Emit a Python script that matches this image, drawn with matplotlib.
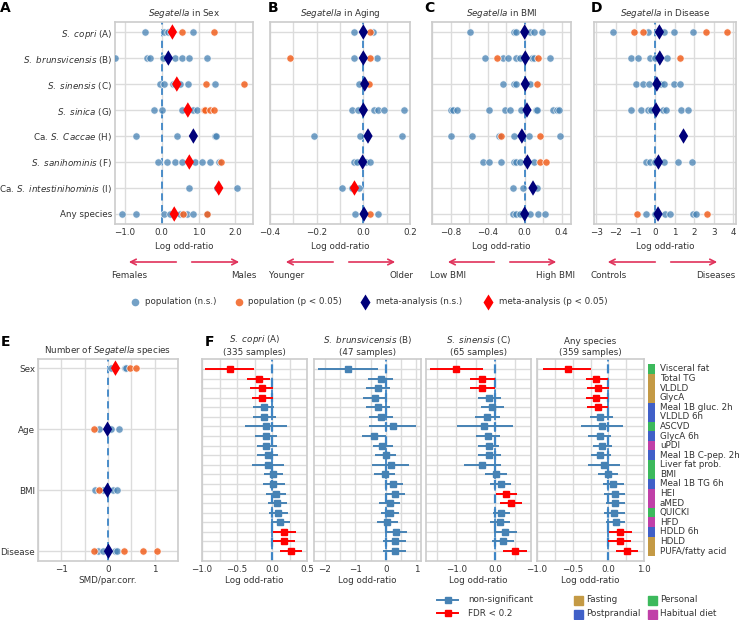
import matplotlib
matplotlib.use('Agg')
import matplotlib.pyplot as plt
import numpy as np
from matplotlib.lines import Line2D
from matplotlib.patches import Rectangle

# ---------------- DATA ----------------
species_labels = [r"$\it{S.\ copri}$ (A)", r"$\it{S.\ brunsvicensis}$ (B)", r"$\it{S.\ sinensis}$ (C)",
                  r"$\it{S.\ sinica}$ (G)", r"Ca. $\it{S.\ Caccae}$ (H)", r"$\it{S.\ sanihominis}$ (F)",
                  r"Ca. $\it{S.\ intestinihominis}$ (I)", "Any species"]

sex_ns = [[-0.45, 0.05, 0.18, 0.24, 0.86],
          [-1.27, -0.41, -0.32, 0.03, 0.36, 0.55, 0.73, 1.23],
          [-0.06, 0.05, 0.30, 0.35, 0.50, 0.71, 1.45],
          [-0.21, 0.0, 0.55, 0.86, 0.95],
          [-0.71, 0.41, 1.44, 1.48],
          [-0.09, 0.14, 0.36, 0.55, 0.91, 1.09, 1.30, 1.55],
          [0.73, 1.50, 2.05],
          [-1.09, -0.71, 0.05, 0.23, 0.50, 0.68, 0.86, 1.23]]
sex_sig = [[0.56, 1.41], [], [1.20, 2.23], [1.14, 1.18, 1.32, 1.41], [], [1.61], [], [0.59, 1.23]]
sex_meta = [0.29, 0.18, 0.41, 0.71, 0.86, 0.75, 1.55, 0.34]
sex_meta_sig = [1, 0, 1, 1, 0, 1, 1, 1]

age_ns = [[-0.039, 0.04],
          [-0.042, 0.058],
          [-0.02],
          [-0.049, -0.025, 0.045, 0.062, 0.087, 0.174],
          [-0.21, -0.013, 0.164],
          [-0.039, -0.029, 0.012, 0.029],
          [-0.09, -0.049, -0.017],
          [-0.036, 0.062]]
age_sig = [[0.029], [-0.314, 0.03], [0.026], [], [], [], [], [0.029]]
age_meta = [0.0, 0.0, 0.006, 0.0, 0.02, -0.003, -0.038, 0.003]
age_meta_sig = [0, 0, 0, 0, 0, 0, 1, 0]

bmi_ns = [[-0.59, -0.12, -0.09, 0.06, 0.10, 0.19],
          [-0.43, -0.23, -0.18, -0.09, -0.05, 0.08, 0.10, 0.27],
          [-0.23, -0.12, -0.09, 0.06],
          [-0.80, -0.77, -0.73, -0.38, -0.21, -0.16, -0.04, 0.12, 0.13, 0.31, 0.35, 0.37],
          [-0.80, -0.57, -0.28, -0.11, 0.05, 0.38],
          [-0.45, -0.38, -0.25, -0.12, -0.09, -0.05, 0.10],
          [-0.13, -0.02, 0.13],
          [-0.13, -0.09, -0.05, 0.06, 0.14, 0.22]]
bmi_sig = [[], [-0.30, 0.14], [0.13], [], [-0.25, 0.17], [0.17, 0.23], [], []]
bmi_meta = [0.0, 0.007, 0.007, 0.025, -0.03, 0.03, 0.09, 0.0]
bmi_meta_sig = [0, 0, 0, 0, 0, 0, 0, 0]

dis_ns = [[-2.17, -0.38, 0.14, 0.44, 0.99, 1.93],
          [-1.23, -0.85, -0.26, 0.0, 0.61],
          [-0.97, -0.63, -0.29, 0.31, 0.44, 0.96, 1.25],
          [-1.23, -0.72, -0.38, -0.20, 0.39, 0.56, 1.33, 1.67],
          [],
          [-0.49, -0.24, -0.03, 0.44, 1.16, 1.88],
          [],
          [-0.46, -0.03, 0.48, 0.78, 1.93, 2.10]]
dis_sig = [[-1.09, -0.63, 2.61, 3.67], [1.28], [], [], [], [], [], [-0.94, 2.66]]
dis_meta = [0.22, 0.24, 0.09, 0.05, 1.45, 0.17, np.nan, 0.15]
dis_meta_sig = [0, 0, 0, 0, 0, 0, 0, 0]

e_labels = ["Sex", "Age", "BMI", "Disease"]
e_ns = [[0.06, 0.14, 0.36, 0.38], [-0.20, 0.07, 0.23], [-0.27, -0.11, 0.11, 0.19], [-0.22, -0.11, 0.14, 0.19]]
e_sig = [[0.47, 0.61], [-0.29], [-0.20], [-0.30, 0.34, 0.74, 1.06]]
e_meta = [0.16, -0.01, -0.01, 0.01]
e_meta_sig = [1, 0, 0, 0]

outcomes = ["Visceral fat", "Total TG", "VLDLD", "GlycA", "Meal 1B gluc. 2h", "VLDLD 6h", "ASCVD",
            "GlycA 6h", "uPDI", "Meal 1B C-pep. 2h", "Liver fat prob.", "BMI", "Meal 1B TG 6h", "HEI",
            "aMED", "QUICKI", "HFD", "HDLD 6h", "HDLD", "PUFA/fatty acid"]
categories = ["Personal", "Fasting", "Fasting", "Fasting", "Postprandial", "Postprandial", "Personal",
              "Postprandial", "Habitual diet", "Postprandial", "Personal", "Personal", "Postprandial",
              "Habitual diet", "Habitual diet", "Personal", "Habitual diet", "Postprandial", "Fasting", "Fasting"]

copri_est = [-0.60, -0.19, -0.15, -0.14, -0.12, -0.11, -0.09, -0.09, -0.08, -0.06, -0.06, 0.01, 0.02, 0.05, 0.07, 0.085, 0.11, 0.17, 0.17, 0.27]
copri_lo = [-0.96, -0.36, -0.31, -0.29, -0.27, -0.27, -0.39, -0.25, -0.21, -0.21, -0.29, -0.12, -0.13, -0.09, -0.06, -0.05, -0.02, 0.01, 0.01, 0.12]
copri_hi = [-0.26, -0.03, 0.01, 0.01, 0.03, 0.05, 0.21, 0.07, 0.07, 0.09, 0.17, 0.15, 0.18, 0.20, 0.22, 0.23, 0.26, 0.34, 0.33, 0.43]
copri_sig = [1, 1, 1, 1, 0, 0, 0, 0, 0, 0, 0, 0, 0, 0, 0, 0, 0, 1, 1, 1]

brun_est = [-1.23, -0.16, -0.26, -0.37, -0.26, -0.16, 0.22, -0.38, -0.11, 0.0, 0.16, -0.04, 0.25, 0.31, 0.12, 0.13, 0.05, 0.33, 0.29, 0.29]
brun_lo = [-2.22, -0.57, -0.65, -0.76, -0.65, -0.55, -0.54, -0.79, -0.43, -0.35, -0.44, -0.38, -0.04, -0.02, -0.22, -0.16, -0.30, -0.04, -0.10, -0.10]
brun_hi = [-0.26, 0.23, 0.14, 0.03, 0.14, 0.23, 0.99, 0.01, 0.22, 0.34, 0.77, 0.31, 0.56, 0.64, 0.45, 0.44, 0.40, 0.69, 0.66, 0.67]
brun_sig = [0] * 20

sin_est = [-1.0, -0.34, -0.33, -0.16, -0.08, -0.20, -0.28, -0.19, -0.17, -0.16, -0.34, 0.02, 0.15, 0.28, 0.40, 0.15, 0.11, 0.26, 0.20, 0.50]
sin_lo = [-1.68, -0.66, -0.65, -0.45, -0.37, -0.52, -0.99, -0.49, -0.45, -0.45, -0.80, -0.26, -0.13, 0.02, 0.11, -0.06, -0.13, -0.04, -0.09, 0.19]
sin_hi = [-0.32, 0.0, 0.0, 0.15, 0.23, 0.13, 0.46, 0.13, 0.10, 0.15, 0.15, 0.30, 0.41, 0.56, 0.69, 0.37, 0.38, 0.57, 0.49, 0.82]
sin_sig = [1, 1, 1, 0, 0, 0, 0, 0, 0, 0, 0, 0, 0, 1, 1, 0, 0, 0, 0, 1]

any_est = [-0.57, -0.17, -0.14, -0.17, -0.15, -0.11, -0.09, -0.11, -0.09, -0.11, -0.06, 0.0, 0.06, 0.09, 0.10, 0.08, 0.11, 0.17, 0.16, 0.26]
any_lo = [-0.92, -0.32, -0.30, -0.32, -0.30, -0.26, -0.39, -0.28, -0.22, -0.25, -0.29, -0.14, -0.08, -0.06, -0.03, -0.06, -0.03, 0.01, 0.0, 0.11]
any_hi = [-0.24, -0.01, 0.01, -0.01, -0.01, 0.06, 0.20, 0.04, 0.05, 0.04, 0.17, 0.14, 0.22, 0.23, 0.24, 0.23, 0.24, 0.33, 0.32, 0.41]
any_sig = [1, 1, 1, 1, 1, 0, 0, 0, 0, 0, 0, 0, 0, 0, 0, 0, 0, 1, 1, 1]

f_titles = [r"$\it{S.\ copri}$ (A)" + "\n(335 samples)", r"$\it{S.\ brunsvicensis}$ (B)" + "\n(47 samples)",
            r"$\it{S.\ sinensis}$ (C)" + "\n(65 samples)", "Any species\n(359 samples)"]

# ---------------- STYLE ----------------
W, H = 740, 620
BLUE = 'steelblue'
ORANGE = '#f2601f'
NAVY = '#00007a'
RED = '#ff0000'
DASH = '#3d85c6'
ARROW = '#e0315a'
GRID = '#dcdcdc'
SPINE = '#cccccc'
TXT = '#333333'
FS = 6.3
CAT_COL = {"Fasting": '#c49a45', "Postprandial": '#4060c8', "Personal": '#3cb95c', "Habitual diet": '#c040a8'}

fig = plt.figure(figsize=(7.4, 6.2), dpi=100)


def rect(x0, y0, x1, y1):
    return [x0 / W, 1 - y1 / H, (x1 - x0) / W, (y1 - y0) / H]


def style(ax, xlim, major, minor, ylim, nrows):
    ax.set_xlim(*xlim)
    ax.set_ylim(*ylim)
    ax.set_xticks(major)
    ax.set_xticks(minor, minor=True)
    ax.set_yticks(range(nrows))
    ax.grid(True, which='both', axis='x', color=GRID, lw=1.0, zorder=0)
    ax.grid(True, which='major', axis='y', color=GRID, lw=1.0, zorder=0)
    ax.set_axisbelow(True)
    for s in ax.spines.values():
        s.set_color(SPINE)
        s.set_linewidth(1.2)
    ax.tick_params(which='both', length=0, labelsize=FS, colors=TXT, pad=3)
    ax.tick_params(axis='y', pad=2)
    ax.axvline(0, color=DASH, ls=(0, (4, 2.5)), lw=1.3, zorder=2)


def dots(ax, ns, sig, meta, meta_sig):
    for i in range(len(ns)):
        if ns[i]:
            ax.scatter(ns[i], [i] * len(ns[i]), s=28, color=BLUE, alpha=0.75,
                       edgecolors='white', linewidths=0.6, zorder=3)
        if sig[i]:
            ax.scatter(sig[i], [i] * len(sig[i]), s=28, color=ORANGE, alpha=0.85,
                       edgecolors='white', linewidths=0.6, zorder=3)
        if not np.isnan(meta[i]):
            ax.scatter([meta[i]], [i], marker='d', s=62, color=RED if meta_sig[i] else NAVY,
                       edgecolors='none', zorder=5)


def xlabel(ax, txt, y):
    ax.text(0.5, y, txt, transform=ax.transAxes, ha='center', va='center', fontsize=FS, color=TXT)


# ---------------- PANELS A-D ----------------
ylimA = (7.385, -0.385)
panels = [
    ("A", rect(115, 22, 253, 224), sex_ns, sex_sig, sex_meta, sex_meta_sig, (-1.27, 2.48),
     [-1, 0, 1, 2], [-1, 0, 1, 2], "Sex", ("Females", "Males"), (0.10, 0.935), (0.464, 0.08, 0.536, 0.92),
     lambda v: ["\u22121.0", "0.0", "1.0", "2.0"], 4),
    ("B", rect(270, 22, 410, 224), age_ns, age_sig, age_meta, age_meta_sig, (-0.4, 0.2),
     [-0.4, -0.2, 0, 0.2], np.arange(-0.4, 0.21, 0.1), "Aging", ("Younger", "Older"), (0.12, 0.94),
     (0.471, 0.093, 0.543, 0.914), lambda v: ["\u22120.4", "\u22120.2", "0.0", "0.2"], 273),
    ("C", rect(432, 22, 571, 224), bmi_ns, bmi_sig, bmi_meta, bmi_meta_sig, (-1.0, 0.5),
     [-0.8, -0.4, 0, 0.4], np.arange(-1.0, 0.51, 0.2), "BMI", ("Low BMI", "High BMI"), (0.115, 0.89),
     (0.468, 0.094, 0.54, 0.914), lambda v: ["\u22120.8", "\u22120.4", "0.0", "0.4"], 429),
    ("D", rect(594, 22, 736, 224), dis_ns, dis_sig, dis_meta, dis_meta_sig, (-3.12, 4.13),
     list(range(-3, 5)), list(range(-3, 5)), "Disease", ("Controls", "Diseases"), (0.1, 0.86),
     (0.451, 0.077, 0.521, 0.887), lambda v: ["\u22123", "\u22122", "\u22121", "0", "1", "2", "3", "4"], 596),
]

for i, (letter, r, ns, sg, mt, ms, xl, maj, mnr, name, lab, labx, arr, fmt, lx) in enumerate(panels):
    ax = fig.add_axes(r)
    style(ax, xl, maj, mnr, ylimA, 8)
    dots(ax, ns, sg, mt, ms)
    ax.set_xticklabels(fmt(maj))
    if i == 0:
        ax.set_yticklabels(species_labels, fontsize=FS, color=TXT)
    else:
        ax.set_yticklabels([])
    ax.set_title(r"$\it{Segatella}$ in " + name, fontsize=FS, color=TXT, pad=4)
    xlabel(ax, "Log odd-ratio", -0.109)
    ya = (224 - 262) / 202
    ax.annotate('', xy=(arr[1], ya), xytext=(arr[0], ya), xycoords='axes fraction',
                arrowprops=dict(arrowstyle='->', color=ARROW, lw=1.2), annotation_clip=False)
    ax.annotate('', xy=(arr[3], ya), xytext=(arr[2], ya), xycoords='axes fraction',
                arrowprops=dict(arrowstyle='->', color=ARROW, lw=1.2), annotation_clip=False)
    yt = (224 - 275) / 202
    ax.text(labx[0], yt, lab[0], transform=ax.transAxes, ha='center', va='center', fontsize=FS, color=TXT)
    ax.text(labx[1], yt, lab[1], transform=ax.transAxes, ha='center', va='center', fontsize=FS, color=TXT)
    fig.text((lx if i else 5) / W, 1 - 8 / H, letter, fontsize=10, fontweight='bold', ha='center', va='center')

# ---------------- TOP LEGEND ----------------
ly = 1 - 302 / H
leg_items = [(135, 'o', BLUE, 0.75, "population (n.s.)", 145),
             (239, 'o', ORANGE, 0.85, "population (p < 0.05)", 248),
             (365, 'd', NAVY, 1.0, "meta-analysis (n.s.)", 376),
             (488, 'd', RED, 1.0, "meta-analysis (p < 0.05)", 499)]
for mx, mk, col, al, txt, tx in leg_items:
    fig.add_artist(Line2D([mx / W], [ly], marker=mk, color=col, alpha=al, ls='none',
                          ms=5.5 if mk == 'o' else 8, mec='none', transform=fig.transFigure))
    fig.text(tx / W, ly, txt, fontsize=FS, color=TXT, va='center', ha='left')

# ---------------- PANEL E ----------------
axE = fig.add_axes(rect(38, 359, 178, 561))
style(axE, (-1.5, 1.5), [-1, 0, 1], np.arange(-1.5, 1.51, 0.5), (3.16, -0.15), 4)
dots(axE, e_ns, e_sig, e_meta, e_meta_sig)
axE.set_xticklabels(["\u22121", "0", "1"])
axE.set_yticklabels(e_labels, fontsize=FS, color=TXT)
axE.set_title(r"Number of $\it{Segatella}$ species", fontsize=FS, color=TXT, pad=4)
xlabel(axE, "SMD/par.corr.", -0.099)
fig.text(5 / W, 1 - 342 / H, "E", fontsize=10, fontweight='bold', ha='center', va='center')

# ---------------- PANEL F ----------------
ylimF = (20.04, -1.04)
f_data = [(copri_est, copri_lo, copri_hi, copri_sig), (brun_est, brun_lo, brun_hi, brun_sig),
          (sin_est, sin_lo, sin_hi, sin_sig), (any_est, any_lo, any_hi, any_sig)]
f_rects = [rect(202, 359, 307, 561), rect(314, 359, 421, 561), rect(426, 359, 531, 561), rect(537, 359, 644, 561)]
f_xlim = [(-1.0, 0.5), (-2.35, 1.15), (-1.78, 0.92), (-1.0, 0.5)]
f_major = [[-1.0, -0.5, 0, 0.5], [-2, -1, 0, 1], [-1.0, 0.0], [-1.0, -0.5, 0, 0.5]]
f_minor = [np.arange(-1.0, 0.51, 0.25), np.arange(-2.0, 1.01, 0.5), np.arange(-1.5, 0.51, 0.5),
           np.arange(-1.0, 0.51, 0.25)]
f_labels = [["\u22121.0", "\u22120.5", "0.0", "0.5"], ["\u22122", "\u22121", "0", "1"], ["\u22121.0", "0.0"],
            ["\u22121.0", "\u22120.5", "0.0", "1.0"]]
rows = np.arange(len(outcomes))
for k in range(4):
    ax = fig.add_axes(f_rects[k])
    style(ax, f_xlim[k], f_major[k], f_minor[k], ylimF, len(outcomes))
    ax.axvline(0, color=DASH, ls=(0, (4, 2.5)), lw=1.6, zorder=2)
    est, lo, hi, sg = [np.array(a, dtype=float) for a in f_data[k]]
    for flag, col in ((0, BLUE), (1, RED)):
        m = sg == flag
        if m.any():
            ax.errorbar(est[m], rows[m], xerr=[est[m] - lo[m], hi[m] - est[m]], fmt='s', color=col,
                        ecolor=col, elinewidth=1.4, ms=4.3, capsize=0, alpha=1, zorder=4)
    ax.set_xticklabels(f_labels[k])
    ax.set_yticklabels([])
    ax.set_title(f_titles[k], fontsize=FS, color=TXT, pad=3, linespacing=1.25)
    xlabel(ax, "Log odd-ratio", -0.099)
fig.text(209 / W, 1 - 342 / H, "F", fontsize=10, fontweight='bold', ha='center', va='center')

# category strip
axS = fig.add_axes(rect(648, 359, 655, 561))
axS.set_ylim(*ylimF)
axS.set_xlim(0, 1)
axS.barh(rows, [1] * len(rows), height=1.0, left=0, color=[CAT_COL[c] for c in categories], edgecolor='none')
axS.axis('off')
for i, t in enumerate(outcomes):
    axS.text(1 + 5 / 7, i, t, va='center', ha='left', fontsize=FS, color=TXT, transform=axS.get_yaxis_transform())

# ---------------- BOTTOM LEGENDS ----------------
for yy, col, txt in ((600, BLUE, "non-significant"), (613, RED, "FDR < 0.2")):
    yf = 1 - yy / H
    fig.add_artist(Line2D([437 / W, 458 / W], [yf, yf], color=col, lw=1.4, transform=fig.transFigure))
    fig.add_artist(Line2D([447.5 / W], [yf], marker='s', color=col, ms=4.3, ls='none', transform=fig.transFigure))
    fig.text(468 / W, yf, txt, fontsize=FS, color=TXT, va='center')

for (px, py, name) in ((574, 600, "Fasting"), (648, 600, "Personal"), (574, 614, "Postprandial"), (648, 614, "Habitual diet")):
    fig.add_artist(Rectangle((px / W, 1 - (py + 4.5) / H), 9 / W, 9 / H, color=CAT_COL[name],
                             transform=fig.transFigure))
    fig.text((px + 12) / W, 1 - py / H, name, fontsize=FS, color=TXT, va='center')

fig.savefig('out.png', dpi=100)
